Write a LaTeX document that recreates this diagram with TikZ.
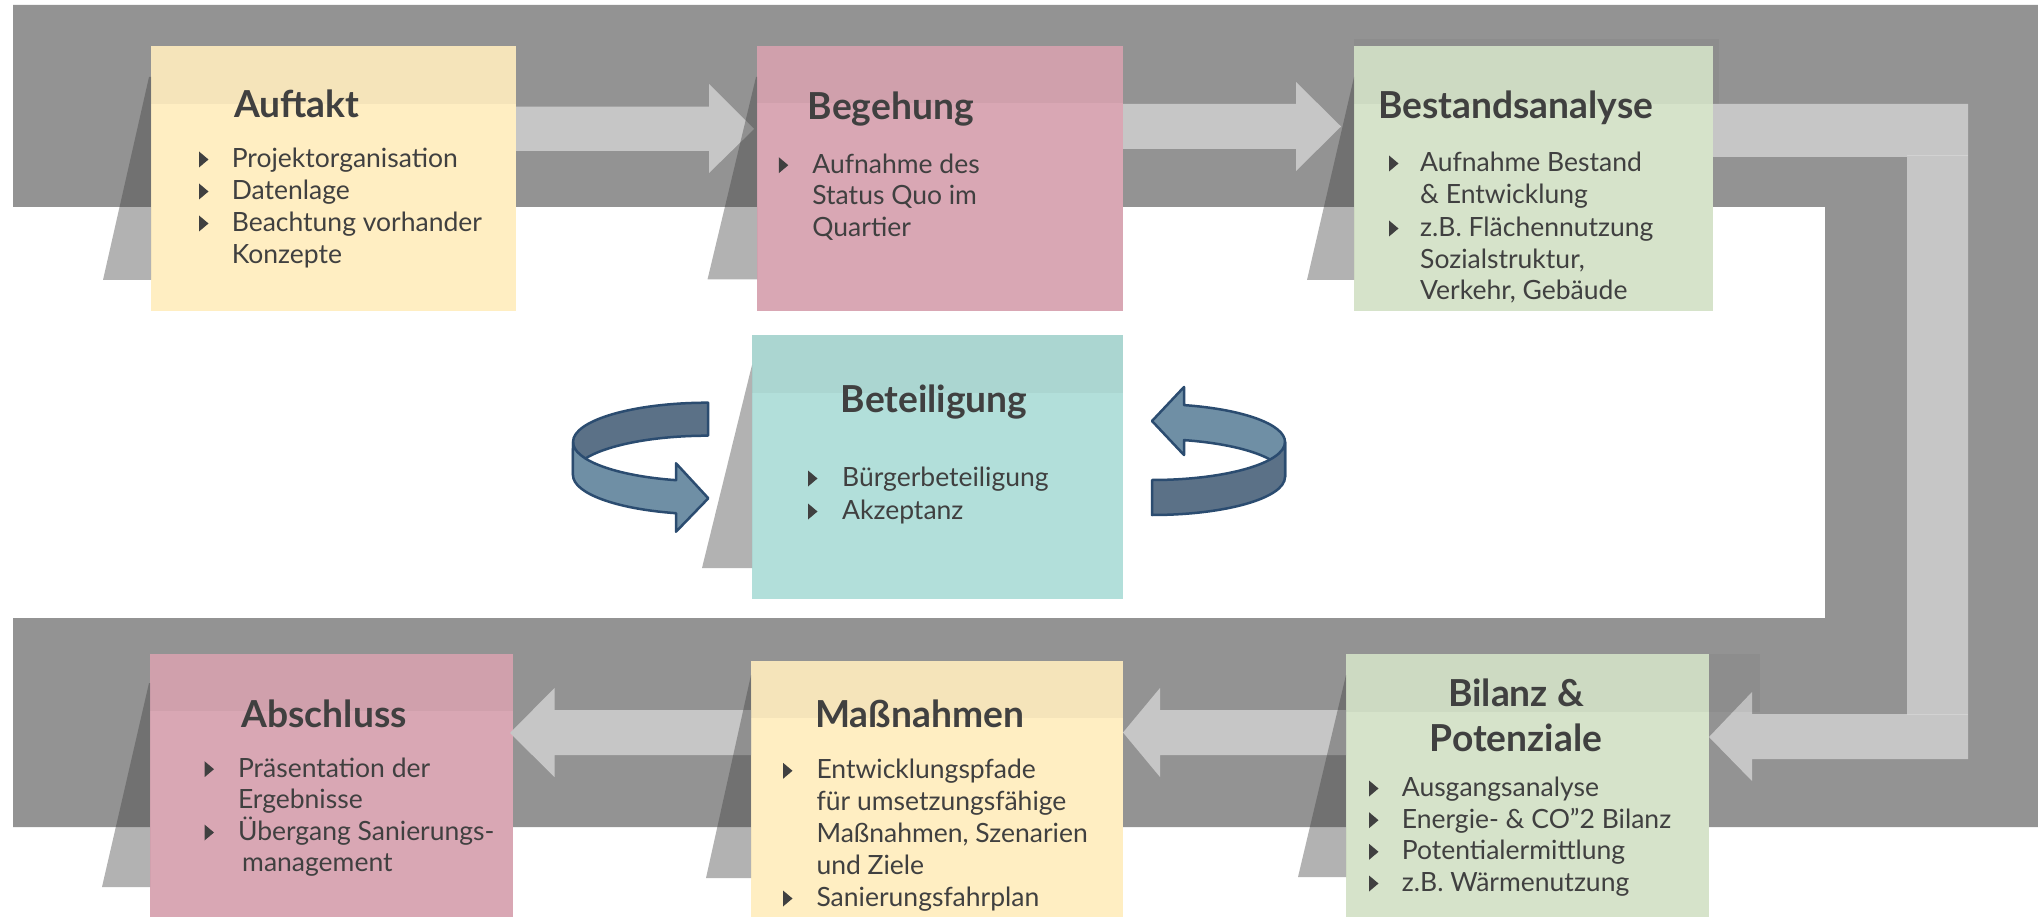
\documentclass[tikz,border=0pt]{standalone}
\usepackage{fontspec}
\setmainfont{Lato}
\usetikzlibrary{calc}
\definecolor{band}{HTML}{939393}
\definecolor{flow}{HTML}{C6C6C6}
\definecolor{seamc}{HTML}{D2D2D2}
\definecolor{yel}{HTML}{FFEEC2}
\definecolor{pnk}{HTML}{D9A7B4}
\definecolor{grn}{HTML}{D6E3CA}
\definecolor{tea}{HTML}{B2DFDA}
\definecolor{txt}{HTML}{404040}
\definecolor{ringdark}{HTML}{5B7187}
\definecolor{ringlight}{HTML}{6F8FA5}
\definecolor{ringline}{HTML}{2B4C70}
\definecolor{shad}{HTML}{404040}
\newcommand{\bult}[2]{\fill[bulletfill] (#1,#2-16) -- (#1+9.5,#2-8) -- (#1,#2) -- cycle;}
\newcommand{\tline}[4]{\node[body] (#1) at (#2,#3) {#4};}
\begin{document}
\begin{tikzpicture}[x=1pt,y=-1pt,
  box/.style={draw=none, inner sep=0pt, outer sep=0pt, anchor=north west},
  ttl/.style={font=\fontsize{37.2}{41}\selectfont\bfseries, text=txt, inner sep=0pt, anchor=base west},
  body/.style={font=\fontsize{26.5}{31.7}\selectfont, text=txt, inner sep=0pt, anchor=base west},
  shadowfill/.style={fill=shad, fill opacity=0.4},
  stripfill/.style={fill=black, fill opacity=0.04},
  bulletfill/.style={fill=txt},
  flowfill/.style={fill=flow},
  seam/.style={draw=seamc, line width=1pt},
  ring/.style={draw=ringline, line width=2.5pt, line join=round},
]
\useasboundingbox (0,0) rectangle (2038,917);
\fill[white] (0,0) rectangle (2038,917);
% gray U-band
\fill[band] (13,5) rectangle (2038,207) (1825,5) rectangle (2038,827) (13,618) rectangle (2038,827);

% boxes
\node[box, fill=yel, minimum width=365pt, minimum height=265pt] (auftakt) at (151,46) {};
\node[box, fill=pnk, minimum width=366pt, minimum height=265pt] (begehung) at (757,46) {};
\node[box, fill=grn, minimum width=359pt, minimum height=265pt] (bestand) at (1354,46) {};
\node[box, fill=tea, minimum width=371pt, minimum height=264pt] (beteil) at (752,335) {};
\node[box, fill=pnk, minimum width=363pt, minimum height=263pt] (abschl) at (150,654) {};
\node[box, fill=yel, minimum width=372pt, minimum height=256pt] (massn) at (751,661) {};
\node[box, fill=grn, minimum width=363pt, minimum height=263pt] (bilanz) at (1346,654) {};

% flow arrows
\fill[flowfill] (auftakt.east |- 0,106.7) -- (709,106.7) -- (709,84) -- ($(begehung.west |- 0,129)+(-3,0)$) -- (709,173) -- (709,151) -- (auftakt.east |- 0,151) -- cycle;
\fill[flowfill] (begehung.east |- 0,104) -- (1296,104) -- (1296,82) -- ($(bestand.west |- 0,126.5)+(-13,0)$) -- (1296,171) -- (1296,149) -- (begehung.east |- 0,149) -- cycle;
\fill[flowfill] (bestand.east |- 0,104) -- (1968,104) -- (1968,759) -- (1752,759) -- (1752,781) -- (bilanz.east |- 0,737) -- (1752,692) -- (1752,714) -- (1907,714) -- (1907,157) -- (bestand.east |- 0,157) -- cycle;
\draw[seam] (1907,155.5) -- (1968,155.5);
\draw[seam] (1907,714) -- (1968,714);
\fill[flowfill] (bilanz.west |- 0,710) -- (1160,710) -- (1160,688) -- (massn.east |- 0,732.5) -- (1160,777) -- (1160,755) -- (bilanz.west |- 0,755) -- cycle;
\fill[flowfill] (massn.west |- 0,710) -- (554.5,710) -- (554.5,688) -- ($(abschl.east |- 0,733)+(-3,0)$) -- (554.5,777) -- (554.5,755) -- (massn.west |- 0,755) -- cycle;

% shadows
\fill[shadowfill] (149,77) -- (auftakt.west |- 0,77) -- (auftakt.west |- 0,280) -- (103,280) -- cycle;
\fill[shadowfill] (756,77) -- (begehung.west |- 0,77) -- (begehung.west |- 0,279.5) -- (707.5,279.5) -- cycle;
\fill[shadowfill] (1354,77) -- (bestand.west |- 0,77) -- (bestand.west |- 0,280) -- (1307,280) -- cycle;
\fill[shadowfill] (752,365) -- (beteil.west |- 0,365) -- (beteil.west |- 0,568) -- (702,568) -- cycle;
\fill[shadowfill] (149,683) -- (abschl.west |- 0,683) -- (abschl.west |- 0,887) -- (102,887) -- cycle;
\fill[shadowfill] (751,675) -- (massn.west |- 0,675) -- (massn.west |- 0,878) -- (706,878) -- cycle;
\fill[shadowfill] (1346,675) -- (bilanz.west |- 0,675) -- (bilanz.west |- 0,877) -- (1298,877) -- cycle;

% title strips
\fill[stripfill] (auftakt.north west) rectangle (auftakt.east |- 0,104);
\fill[stripfill] (begehung.north west) rectangle (begehung.east |- 0,103);
\fill[stripfill] (1354,39) rectangle (1719,104);
\fill[stripfill] (beteil.north west) rectangle (beteil.east |- 0,393);
\fill[stripfill] (abschl.north west) rectangle (abschl.east |- 0,711);
\fill[stripfill] (massn.north west) rectangle (massn.east |- 0,718);
\fill[stripfill] (1346,654) rectangle (1760,712);

% titles
\node[ttl] (t1) at (234,118) {Auftakt};
\node[ttl] (t2) at (807.6,120) {Begehung};
\node[ttl] (t3) at (1378,119) {Bestandsanalyse};
\node[ttl] (t4) at (840.5,412.7) {Beteiligung};
\node[ttl] (t5) at (241.4,727.7) {Abschluss};
\node[ttl] (t6) at (815,727.7) {Maßnahmen};
\node[ttl, anchor=base] (t7a) at (1516,706) {Bilanz \&};
\node[ttl, anchor=base] (t7b) at (1516,751) {Potenziale};

% Auftakt
\bult{199}{167.5}\bult{199}{199.5}\bult{199}{231.5}
\tline{a1}{231.6}{167.5}{Projektorganisation}
\tline{a2}{231.6}{199.5}{Datenlage}
\tline{a3}{231.6}{231.5}{Beachtung vorhander}
\tline{a4}{231.6}{263.5}{Konzepte}
% Begehung
\bult{778.8}{173.2}
\tline{b1}{812.2}{173.2}{Aufnahme des}
\tline{b2}{812.2}{204.8}{Status Quo im}
\tline{b3}{812.2}{236.5}{Quartier}
% Bestandsanalyse
\bult{1389}{171.5}\bult{1389}{236.5}
\tline{c1}{1420}{171.5}{Aufnahme Bestand}
\tline{c2}{1420}{203.5}{\& Entwicklung}
\tline{c3}{1420}{236.5}{z.B. Flächennutzung}
\tline{c4}{1420}{268.5}{Sozialstruktur,}
\tline{c5}{1420}{299.5}{Verkehr, Gebäude}
% Beteiligung
\bult{808}{486.5}\bult{808}{519.5}
\tline{d1}{842}{486.5}{Bürgerbeteiligung}
\tline{d2}{842}{519.5}{Akzeptanz}
% Abschluss
\bult{204.5}{777.2}\bult{204.5}{840.5}
\tline{e1}{237.8}{777.2}{Präsentation der}
\tline{e2}{237.8}{808.2}{Ergebnisse}
\tline{e3}{237.8}{840.5}{Übergang Sanierungs-}
\tline{e4}{242}{871.5}{management}
% Massnahmen
\bult{783}{778.8}\bult{783}{906.5}
\tline{f1}{816.3}{778.8}{Entwicklungspfade}
\tline{f2}{816.3}{810.5}{für umsetzungsfähige}
\tline{f3}{816.3}{842.5}{Maßnahmen, Szenarien}
\tline{f4}{816.3}{874.2}{und Ziele}
\tline{f5}{816.3}{906.5}{Sanierungsfahrplan}
% Bilanz
\bult{1369}{796.5}\bult{1369}{828.2}\bult{1369}{859.8}\bult{1369}{891.5}
\tline{g1}{1401.7}{796.5}{Ausgangsanalyse}
\tline{g2}{1401.7}{828.2}{Energie- \& CO”2 Bilanz}
\tline{g3}{1401.7}{859.8}{Potentialermittlung}
\tline{g4}{1401.7}{891.5}{z.B. Wärmenutzung}

% circular arrows (left)
\draw[ring, fill=ringdark] (708,402.7) arc[start angle=270, end angle=180, x radius=135, y radius=39.3] -- (573,475) arc[start angle=180, end angle=270, x radius=135, y radius=39.3] -- cycle;
\draw[ring, fill=ringlight] (573,442) arc[start angle=180, end angle=103.7, x radius=135, y radius=39.3] -- (676,463.3) -- (708.3,498.3) -- (676,531.7) -- (676,513.2) arc[start angle=103.7, end angle=180, x radius=135, y radius=39.3] -- cycle;
% circular arrows (right)
\draw[ring, fill=ringlight] (1184,405.1) arc[start angle=283.92, end angle=360, x radius=133, y radius=38] -- (1285,477) arc[start angle=360, end angle=283.92, x radius=133, y radius=38] -- (1184,455) -- (1152,421) -- (1184,387) -- cycle;
\draw[ring, fill=ringdark] (1285,442) arc[start angle=0, end angle=90, x radius=133, y radius=38] -- (1152,515) arc[start angle=90, end angle=0, x radius=133, y radius=38] -- cycle;
\end{tikzpicture}
\end{document}
